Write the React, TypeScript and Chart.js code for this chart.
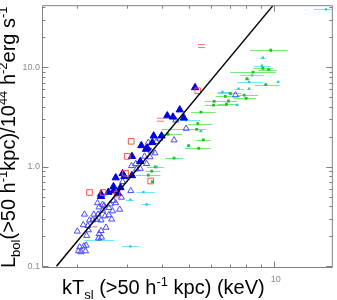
import React, { useEffect, useRef } from 'react';
import { Chart, registerables } from 'chart.js';
Chart.register(...registerables);

// ---- axis ranges / tick labels ----
const xMin = 1.51;
const xMax = 16.1;
const yMin = 0.0982;
const yMax = 41.95;
const yTickValues = [0.1, 1, 10];
const yTickLabels = ['0.1', '1.0', '10.0'];
const xTickValues = [10];
const xTickLabels = ['10'];

// ---- fit line ----
const fitT = [1.686, 9.92];
const fitL = [0.1, 41.3];

// ---- filled blue triangles ----
const filledT = [5.25, 4.63, 4.18, 4.38, 4.79, 3.74, 3.99, 3.70, 3.55, 3.51, 3.38, 3.13, 3.35, 3.13, 2.90, 2.94, 2.74, 2.69, 2.69, 2.58, 2.43, 2.43, 2.79, 2.85];
const filledL = [6.24, 3.73, 3.25, 3.16, 3.09, 2.04, 2.04, 1.75, 1.54, 1.50, 1.63, 1.27, 1.13, 0.815, 0.853, 0.797, 0.774, 0.631, 0.572, 0.554, 0.530, 0.503, 0.542, 0.617];

// ---- open blue triangles ----
const openT = [4.88, 4.42, 4.48, 7.31, 3.58, 3.66, 3.78, 3.63, 3.47, 3.53, 3.23, 3.12, 3.35, 2.90, 2.87, 3.10, 2.74, 2.83, 2.59, 2.67, 2.59, 2.65, 2.46, 2.36, 2.39, 2.46, 2.37, 2.29, 2.33, 2.51, 2.43, 2.27, 2.21, 2.12, 2.18, 2.00, 2.16, 2.53, 2.43, 2.39, 2.44, 2.38, 2.04, 2.02, 2.11, 2.15, 2.14, 2.06, 2.10, 2.19, 3.25, 3.82, 3.93, 2.49, 2.69, 2.62];
const openL = [2.42, 1.85, 2.93, 5.24, 1.75, 1.43, 1.37, 1.25, 1.27, 1.07, 1.07, 1.02, 0.956, 0.707, 0.491, 0.572, 0.432, 0.372, 0.386, 0.358, 0.327, 0.296, 0.417, 0.432, 0.392, 0.364, 0.332, 0.332, 0.296, 0.319, 0.29, 0.291, 0.29, 0.332, 0.255, 0.224, 0.203, 0.245, 0.227, 0.211, 0.195, 0.191, 0.156, 0.142, 0.159, 0.162, 0.142, 0.139, 0.26, 0.231, 0.943, 1.78, 1.92, 0.407, 0.456, 0.42];

// ---- red open squares ----
const redSqT = [5.37, 3.11, 3.01, 2.97, 3.65, 2.21, 2.47, 2.77];
const redSqL = [5.79, 1.80, 1.27, 0.861, 0.718, 0.551, 0.551, 0.530];

// ---- red "=" marks and dash ----
const redEqT = [5.54, 3.97];
const redEqL = [16.3, 2.97];
const redDashT = [2.31];
const redDashL = [0.249];

// ---- cyan points with T error bars ----
const cyanT = [15.35, 9.15, 9.08, 8.37, 8.17, 10.37, 7.5, 8.17, 6.57, 7.41, 4.87, 5.5, 3.83, 3.44, 3.53, 3.09, 2.39, 3.09, 2.39];
const cyanL = [38.0, 12.5, 10.35, 8.25, 7.1, 7.1, 6.1, 6.1, 5.66, 4.18, 2.93, 2.28, 0.993, 0.554, 0.417, 0.467, 0.184, 0.158, 0.285];
const cyanTlo = [13.93, 8.93, 8.51, 7.6, 7.41, 10.25, 7.24, 8.04, 6.31, 7.31, 4.46, 5.41, 3.64, 3.25, 3.39, 2.98, 2.12, 2.88, 2.32];
const cyanThi = [16.2, 9.37, 9.76, 9.22, 9.15, 10.5, 7.85, 8.3, 6.95, 7.51, 5.46, 5.59, 4.05, 3.79, 3.67, 3.18, 2.70, 3.31, 2.47];

// ---- green points with T error bars ----
const greenT = [9.76, 8.44, 9.15, 9.6, 8.04, 9.37, 7.01, 7.85, 7.98, 6.73, 6.9, 6.14, 6.11, 6.79, 5.51, 5.37, 5.32, 5.62, 5.41, 4.42, 4.21, 3.79, 3.68, 3.58, 3.70, 4.98];
const greenL = [14.8, 8.91, 9.75, 9.45, 7.65, 6.68, 5.44, 5.24, 4.86, 5.09, 4.57, 4.54, 4.15, 4.24, 3.54, 2.70, 2.37, 1.86, 1.53, 1.22, 2.11, 0.997, 0.901, 0.823, 0.707, 1.63];
const greenTlo = [8.24, 7.01, 8.44, 8.85, 7.9, 8.58, 6.31, 7.41, 7.18, 6.21, 6.11, 5.68, 5.68, 6.31, 5.07, 4.95, 3.98, 5.28, 4.83, 4.11, 3.89, 3.53, 3.50, 3.23, 3.66, 4.93];
const greenThi = [11.2, 10.16, 10.0, 10.25, 8.2, 10.5, 7.66, 8.79, 8.65, 7.6, 7.41, 6.95, 6.84, 7.41, 6.21, 6.06, 5.73, 5.96, 5.96, 4.76, 4.72, 4.05, 3.95, 3.95, 3.74, 5.03];

const FONT = '"Liberation Sans", Arial, sans-serif';

type Seg = { t: string; s: number; dy: number };
const xTitle: Seg[] = [
  { t: 'kT', s: 20, dy: 0 },
  { t: 'sl', s: 13, dy: 5 },
  { t: ' (>50 h', s: 20, dy: 0 },
  { t: '-1', s: 13, dy: -8 },
  { t: ' kpc) (keV)', s: 20, dy: 0 },
];
const yTitle: Seg[] = [
  { t: 'L', s: 20, dy: 0 },
  { t: 'bol', s: 13, dy: 5 },
  { t: '(>50 h', s: 20, dy: 0 },
  { t: '-1', s: 13, dy: -8 },
  { t: 'kpc)/10', s: 20, dy: 0 },
  { t: '44', s: 13, dy: -8 },
  { t: ' h', s: 20, dy: 0 },
  { t: '-2', s: 13, dy: -8 },
  { t: 'erg s', s: 20, dy: 0 },
  { t: '-1', s: 13, dy: -8 },
];

function drawSegs(ctx: CanvasRenderingContext2D, segs: Seg[], x0: number, y0: number) {
  let x = x0;
  ctx.textAlign = 'left';
  ctx.textBaseline = 'alphabetic';
  ctx.fillStyle = '#000';
  for (const g of segs) {
    ctx.font = `${g.s}px ${FONT}`;
    ctx.fillText(g.t, x, y0 + g.dy);
    x += ctx.measureText(g.t).width;
  }
}

const decor = {
  id: 'decor',
  beforeDatasetsDraw(chart: any) {
    const { ctx, chartArea: a, scales } = chart;
    const x = scales.x, y = scales.y;
    ctx.save();
    ctx.beginPath();
    ctx.rect(a.left, a.top, a.right - a.left, a.bottom - a.top);
    ctx.clip();
    ctx.lineWidth = 1;
    const bars = (lo: number[], hi: number[], ys: number[], color: string) => {
      ctx.strokeStyle = color;
      ctx.beginPath();
      lo.forEach((l, i) => {
        const py = Math.round(y.getPixelForValue(ys[i])) + 0.5;
        ctx.moveTo(x.getPixelForValue(l), py);
        ctx.lineTo(x.getPixelForValue(hi[i]), py);
      });
      ctx.stroke();
    };
    bars(cyanTlo, cyanThi, cyanL, '#70e8f4');
    bars(greenTlo, greenThi, greenL, '#70ee70');
    ctx.restore();
  },
  afterDraw(chart: any) {
    const { ctx, chartArea: a, scales } = chart;
    const x = scales.x, y = scales.y;
    ctx.save();
    const L = a.left - 0.5, R = a.right + 0.5, T = a.top + 0.5, B = a.bottom + 0.5;
    ctx.strokeStyle = '#808080';
    ctx.lineWidth = 1;
    ctx.beginPath();
    ctx.moveTo(L, T); ctx.lineTo(R, T); ctx.lineTo(R, B); ctx.lineTo(L, B); ctx.closePath();
    ctx.stroke();
    // ticks
    ctx.beginPath();
    for (let k = -2; k <= 2; k++) {
      for (let m = 1; m <= 9; m++) {
        const v = m * Math.pow(10, k);
        const len = m === 1 ? 6 : 3;
        if (v >= yMin && v <= yMax) {
          const py = Math.round(y.getPixelForValue(v)) + 0.5;
          ctx.moveTo(L, py); ctx.lineTo(L + len, py);
          ctx.moveTo(R, py); ctx.lineTo(R - len, py);
        }
        if (v >= xMin && v <= xMax) {
          const px = Math.round(x.getPixelForValue(v)) + 0.5;
          ctx.moveTo(px, B); ctx.lineTo(px, B - len);
          ctx.moveTo(px, T); ctx.lineTo(px, T + len);
        }
      }
    }
    ctx.stroke();
    // tick labels
    ctx.fillStyle = '#8a8a8a';
    ctx.font = `9px ${FONT}`;
    ctx.textAlign = 'right';
    ctx.textBaseline = 'middle';
    yTickValues.forEach((v, i) => {
      ctx.fillText(yTickLabels[i], a.left - 3, y.getPixelForValue(v));
    });
    ctx.textAlign = 'center';
    xTickValues.forEach((v, i) => {
      ctx.fillText(xTickLabels[i], x.getPixelForValue(v) + 2, 280);
    });
    // titles
    drawSegs(ctx, xTitle, 62, 294);
    ctx.save();
    ctx.translate(15, 268);
    ctx.rotate(-Math.PI / 2);
    drawSegs(ctx, yTitle, 0, 0);
    ctx.restore();
    ctx.restore();
  },
};

const pts = (xs: number[], ys: number[]) => xs.map((v, i) => ({ x: v, y: ys[i] }));

export default function App() {
  const ref = useRef<HTMLCanvasElement>(null);
  useEffect(() => {
    const canvas = ref.current!;
    const eq = document.createElement('canvas');
    eq.width = 7; eq.height = 6;
    const c = eq.getContext('2d')!;
    c.strokeStyle = '#ff7070';
    c.lineWidth = 1;
    c.beginPath();
    c.moveTo(0, 1.5); c.lineTo(7, 1.5);
    c.moveTo(0, 4.5); c.lineTo(7, 4.5);
    c.stroke();

    const chart = new Chart(canvas, {
      type: 'scatter',
      data: {
        datasets: [
          { data: pts(fitT, fitL), showLine: true, borderColor: '#000', borderWidth: 1.5, pointRadius: 0 } as any,
          { data: pts(redEqT, redEqL), pointStyle: eq as any, pointRadius: 3 },
          { data: pts(redDashT, redDashL), pointStyle: 'line', pointRadius: 2.5, borderColor: '#ff6060', borderWidth: 1 },
          { data: pts(redSqT, redSqL), pointStyle: 'rect', pointRadius: 4, borderColor: '#ff5050', backgroundColor: 'rgba(0,0,0,0)', borderWidth: 1 },
          { data: pts(filledT, filledL), pointStyle: 'triangle', pointRadius: 4.2, backgroundColor: '#0000f0', borderColor: '#0000c8', borderWidth: 1 },
          { data: pts(openT, openL), pointStyle: 'triangle', pointRadius: 3.5, backgroundColor: 'rgba(0,0,0,0)', borderColor: '#4848ff', borderWidth: 1 },
          { data: pts(cyanT, cyanL), pointStyle: 'rect', pointRadius: 1.6, backgroundColor: '#20c8dc', borderWidth: 0 },
          { data: pts(greenT, greenL), pointStyle: 'rect', pointRadius: 2, backgroundColor: '#22c022', borderWidth: 0 },
        ],
      },
      options: {
        animation: false,
        responsive: false,
        maintainAspectRatio: false,
        events: [],
        layout: { padding: { left: 43, right: 1, top: 0, bottom: 33 } },
        plugins: { legend: { display: false }, tooltip: { enabled: false } },
        scales: {
          x: { type: 'logarithmic', min: xMin, max: xMax, display: false, bounds: 'data' },
          y: { type: 'logarithmic', min: yMin, max: yMax, display: false, bounds: 'data' },
        },
      },
      plugins: [decor],
    });
    return () => chart.destroy();
  }, []);
  return (
    <div style={{ position: 'fixed', left: 0, top: 0, width: 337, height: 300, background: '#fff' }}>
      <canvas ref={ref} width={337} height={300} style={{ display: 'block', width: 337, height: 300 }} />
    </div>
  );
}
